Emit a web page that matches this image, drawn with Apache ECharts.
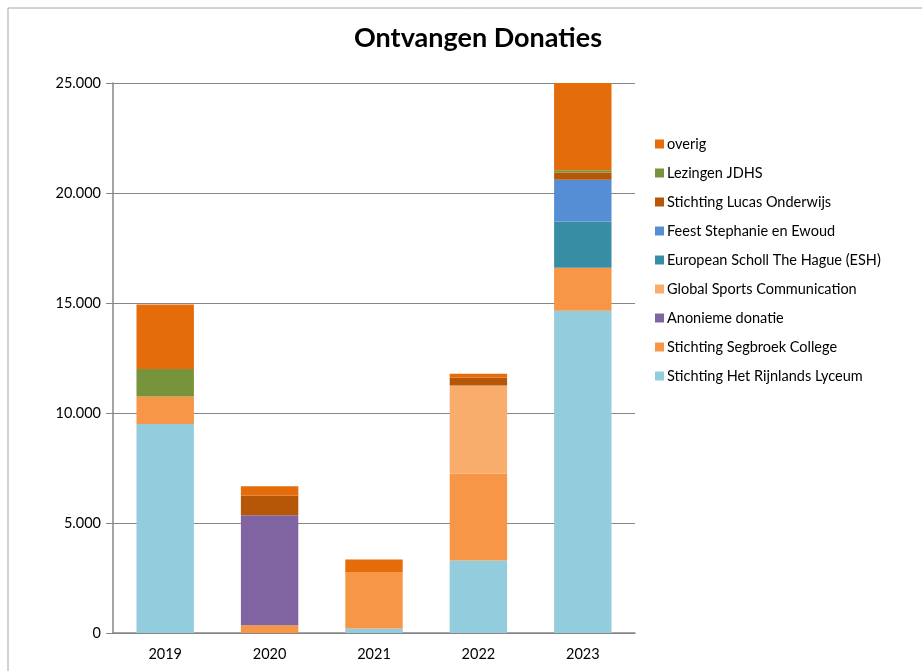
<!DOCTYPE html>
<html>
<head>
<meta charset="utf-8">
<script src="https://cdn.jsdelivr.net/npm/echarts@6/dist/echarts.min.js"></script>
<style>
  html, body { margin: 0; padding: 0; background: #fff; }
  #main { width: 922px; height: 671px; }
</style>
</head>
<body>
<div id="main"></div>
<script>
var myChart = echarts.init(document.getElementById('main'));

var years = ['2019', '2020', '2021', '2022', '2023'];

// values per donor, bottom to top of the stack
var rijnlands = [9500, 0, 200, 3300, 14650];
var segbroek = [1250, 350, 2570, 3950, 1950];
var anoniem = [0, 5000, 0, 0, 0];
var globalSports = [0, 0, 0, 4000, 0];
var esh = [0, 0, 0, 0, 2100];
var feest = [0, 0, 0, 0, 1900];
var lucas = [0, 900, 0, 350, 330];
var lezingen = [1250, 0, 0, 0, 100];
var overig = [2930, 420, 575, 180, 3980];

var yTicks = [0, 5000, 10000, 15000, 20000, 25000];

var seriesDefs = [
    {name: 'Stichting Het Rijnlands Lyceum', data: rijnlands, color: '#93cddd'},
    {name: 'Stichting Segbroek College', data: segbroek, color: '#f79646'},
    {name: 'Anonieme donatie', data: anoniem, color: '#8064a2'},
    {name: 'Global Sports Communication', data: globalSports, color: '#f9ad6d'},
    {name: 'European Scholl The Hague (ESH)', data: esh, color: '#378ea4'},
    {name: 'Feest Stephanie en Ewoud', data: feest, color: '#558ed5'},
    {name: 'Stichting Lucas Onderwijs', data: lucas, color: '#b65708'},
    {name: 'Lezingen JDHS', data: lezingen, color: '#77933c'},
    {name: 'overig', data: overig, color: '#e46c0a'}
];

var fmt = function (v) {
    return v === 0 ? '0' : (v / 1000).toFixed(3);
};

var series = seriesDefs.map(function (s) {
    return {
        name: s.name,
        type: 'bar',
        stack: 'total',
        barWidth: '55%',
        data: s.data,
        itemStyle: {color: s.color},
        emphasis: {disabled: true}
    };
});

option = {
    backgroundColor: '#fff',
    animation: false,
    textStyle: {fontFamily: 'Lato'},
    graphic: [{
        type: 'rect',
        shape: {x: 8, y: 8, width: 1000, height: 800},
        style: {fill: 'none', stroke: '#a6a6a6', lineWidth: 1},
        silent: true
    }],
    title: {
        text: 'Ontvangen Donaties',
        left: 473,
        textAlign: 'center',
        top: 20,
        textStyle: {fontFamily: 'Lato', fontSize: 27, fontWeight: 'bold', color: '#000'}
    },
    legend: {
        orient: 'vertical',
        left: 650,
        top: 131,
        itemWidth: 9,
        itemHeight: 9,
        itemGap: 13,
        icon: 'rect',
        data: seriesDefs.map(function (s) { return s.name; }).reverse(),
        textStyle: {fontFamily: 'Lato', fontSize: 14.5, lineHeight: 16, color: '#000', padding: [0, 0, 0, -2]}
    },
    grid: {left: 113, right: 287, top: 83, bottom: 38},
    xAxis: {
        type: 'category',
        data: years,
        axisLine: {lineStyle: {color: '#868686', width: 1.5}},
        axisTick: {show: false},
        axisLabel: {color: '#000', fontSize: 14.5, fontFamily: 'Lato', margin: 14}
    },
    yAxis: {
        type: 'value',
        min: yTicks[0],
        max: yTicks[yTicks.length - 1],
        interval: 5000,
        axisLine: {show: true, lineStyle: {color: '#868686', width: 1.5}},
        axisTick: {show: true, inside: false, length: 7, lineStyle: {color: '#868686'}},
        splitLine: {lineStyle: {color: '#868686', width: 1}},
        axisLabel: {color: '#000', fontSize: 14.5, fontFamily: 'Lato', margin: 12, formatter: fmt}
    },
    series: series
};

myChart.setOption(option);
</script>
</body>
</html>
